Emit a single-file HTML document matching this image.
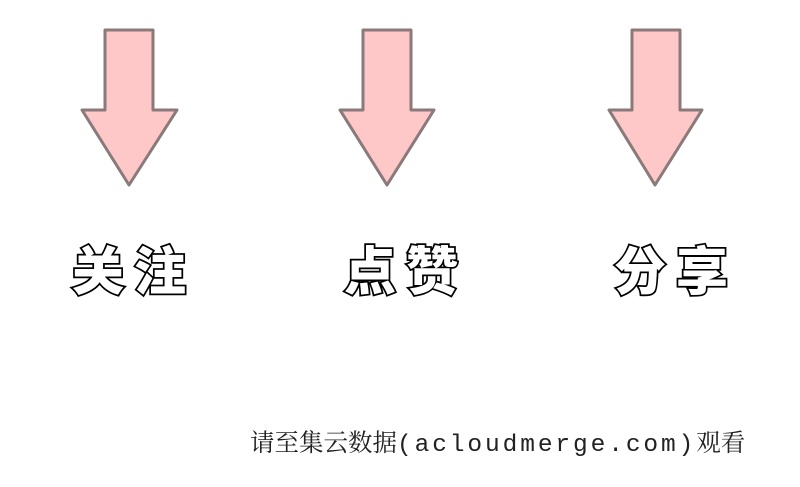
<!DOCTYPE html>
<html><head><meta charset="utf-8"><style>
html,body{margin:0;padding:0;background:#fff;width:800px;height:487px;overflow:hidden;position:relative}
.t{position:absolute;top:238px;font:900 52px "Noto Sans CJK SC","WenQuanYi Zen Hei",sans-serif;color:#fff;-webkit-text-stroke:3.5px #000;paint-order:stroke fill;letter-spacing:10px;line-height:60px}
.b{position:absolute;left:250px;top:426px;font-size:24.5px;line-height:32px;color:#222;white-space:nowrap;font-family:"Noto Serif CJK SC",serif}
.m{font-family:"Liberation Mono",monospace;letter-spacing:2.9px}
</style></head><body>
<svg width="800" height="487" style="position:absolute;left:0;top:0">
<g fill="#ffc8c8" stroke="#8a7a7a" stroke-width="3" stroke-linejoin="round">
<polygon points="105,30 153,30 153,110 177,110 129,185 82,110 105,110"/>
<polygon points="363,30 411,30 411,110 434,110 387,185 340,110 363,110"/>
<polygon points="632,30 680,30 680,110 702,110 655,185 609,110 632,110"/>
</g></svg>
<div class="t" style="left:72px">关注</div>
<div class="t" style="left:344px">点赞</div>
<div class="t" style="left:614px">分享</div>
<div class="b">请至集云数据<span class="m">(acloudmerge.com)</span>观看</div>
</body></html>
